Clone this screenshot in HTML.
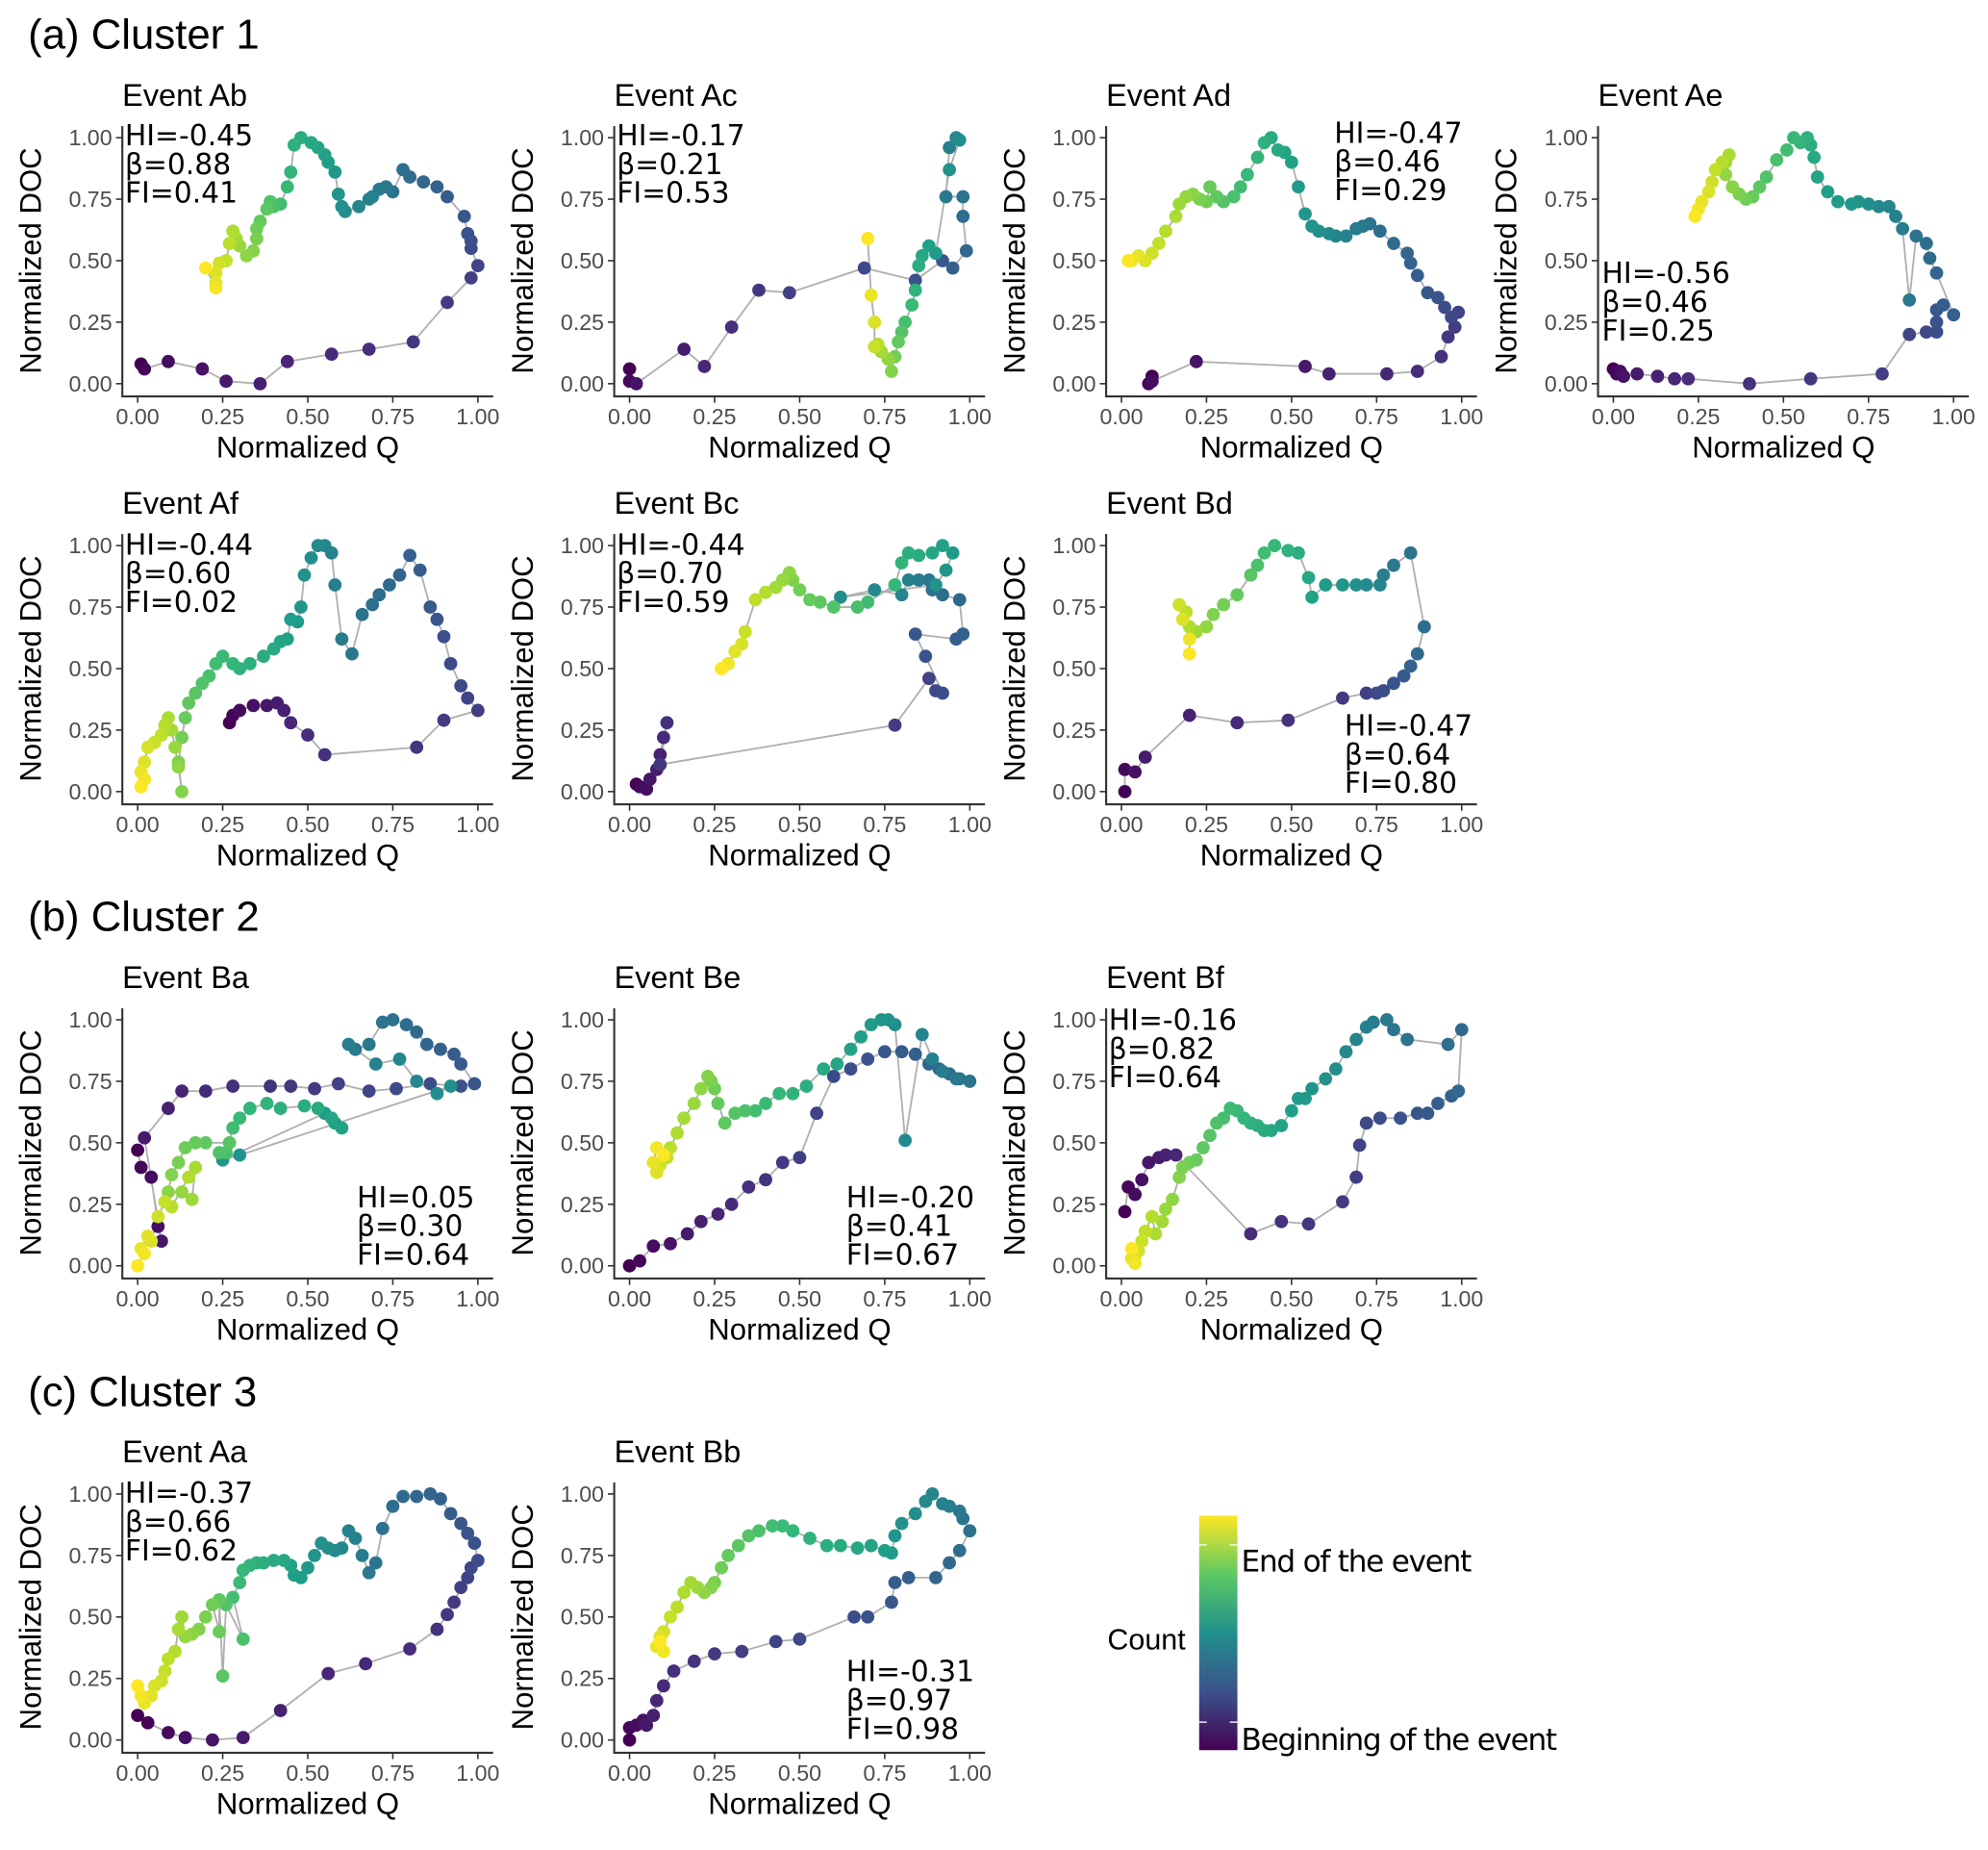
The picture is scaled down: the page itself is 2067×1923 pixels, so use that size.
<!DOCTYPE html>
<html><head><meta charset="utf-8"><style>
html,body{margin:0;padding:0;background:#fff;}
svg{display:block;font-family:"Liberation Sans",sans-serif;}
</style></head><body>
<svg id="fig" width="2067" height="1923" viewBox="0 0 1560 1451.3" preserveAspectRatio="none" xmlns="http://www.w3.org/2000/svg">
<defs><linearGradient id="vgrad" x1="0" y1="1" x2="0" y2="0">
<stop offset="0" stop-color="#440154"/><stop offset="0.25" stop-color="#3b528b"/><stop offset="0.5" stop-color="#21908c"/><stop offset="0.75" stop-color="#5dc963"/><stop offset="1" stop-color="#fde725"/></linearGradient></defs>
<text x="22" y="38" font-size="33">(a) Cluster 1</text>
<text x="22" y="730" font-size="33">(b) Cluster 2</text>
<text x="22" y="1103" font-size="33">(c) Cluster 3</text>
<g>
<rect x="941" y="1189" width="30" height="184" fill="url(#vgrad)"/>
<line x1="941" y1="1212" x2="947" y2="1212" stroke="#fff" stroke-width="1"/><line x1="965" y1="1212" x2="971" y2="1212" stroke="#fff" stroke-width="1"/>
<line x1="941" y1="1351" x2="947" y2="1351" stroke="#fff" stroke-width="1"/><line x1="965" y1="1351" x2="971" y2="1351" stroke="#fff" stroke-width="1"/>
<text x="869" y="1294" font-size="23">Count</text>
<text x="974" y="1233" font-size="23.5" font-family="'DejaVu Sans',sans-serif" textLength="181">End of the event</text>
<text x="974" y="1373" font-size="23.5" font-family="'DejaVu Sans',sans-serif" textLength="248">Beginning of the event</text>
</g>
<g id="panels"></g>
</svg>
<script>
const eventAb=[[0.01,0.08],[0.02,0.06],[0.09,0.09],[0.19,0.06],[0.26,0.01],[0.36,0.0],[0.44,0.09],[0.57,0.12],[0.68,0.14],[0.81,0.17],[0.91,0.33],[0.98,0.43],[1.0,0.48],[0.98,0.55],[0.98,0.58],[0.97,0.61],[0.96,0.68],[0.91,0.76],[0.88,0.80],[0.84,0.82],[0.80,0.84],[0.78,0.87],[0.75,0.78],[0.73,0.80],[0.71,0.79],[0.69,0.76],[0.68,0.75],[0.65,0.72],[0.61,0.70],[0.60,0.72],[0.59,0.77],[0.58,0.86],[0.56,0.90],[0.55,0.93],[0.53,0.96],[0.51,0.98],[0.48,1.0],[0.46,0.97],[0.45,0.86],[0.44,0.80],[0.42,0.73],[0.40,0.72],[0.39,0.74],[0.38,0.71],[0.36,0.66],[0.35,0.63],[0.35,0.59],[0.34,0.54],[0.32,0.52],[0.30,0.56],[0.29,0.59],[0.28,0.62],[0.27,0.57],[0.26,0.50],[0.24,0.49],[0.23,0.45],[0.23,0.41],[0.23,0.39],[0.20,0.47]];
const eventAc=[[0.0,0.06],[0.0,0.01],[0.02,0.0],[0.16,0.14],[0.22,0.07],[0.30,0.23],[0.38,0.38],[0.47,0.37],[0.69,0.47],[0.84,0.42],[0.92,0.50],[0.95,0.47],[0.99,0.54],[0.98,0.68],[0.98,0.76],[0.93,0.76],[0.94,0.96],[0.96,1.0],[0.97,0.99],[0.94,0.87],[0.90,0.53],[0.88,0.56],[0.86,0.52],[0.85,0.48],[0.84,0.38],[0.83,0.32],[0.81,0.25],[0.80,0.21],[0.79,0.17],[0.78,0.11],[0.77,0.05],[0.76,0.10],[0.74,0.13],[0.73,0.16],[0.72,0.15],[0.72,0.25],[0.71,0.36],[0.70,0.59]];
const eventAd=[[0.09,0.03],[0.08,0.0],[0.09,0.01],[0.22,0.09],[0.54,0.07],[0.61,0.04],[0.78,0.04],[0.87,0.05],[0.94,0.11],[0.96,0.19],[0.98,0.23],[0.99,0.29],[0.97,0.27],[0.95,0.31],[0.93,0.35],[0.90,0.37],[0.87,0.44],[0.85,0.49],[0.84,0.53],[0.80,0.57],[0.76,0.62],[0.73,0.65],[0.71,0.64],[0.69,0.63],[0.66,0.60],[0.63,0.60],[0.61,0.61],[0.58,0.62],[0.56,0.64],[0.54,0.69],[0.52,0.80],[0.50,0.90],[0.48,0.94],[0.46,0.95],[0.44,1.0],[0.42,0.98],[0.40,0.92],[0.37,0.85],[0.35,0.80],[0.33,0.76],[0.30,0.74],[0.28,0.76],[0.26,0.80],[0.25,0.74],[0.23,0.75],[0.21,0.77],[0.19,0.76],[0.17,0.73],[0.16,0.68],[0.13,0.62],[0.11,0.57],[0.09,0.53],[0.07,0.50],[0.05,0.52],[0.03,0.50],[0.02,0.50]];
const eventAe=[[0.0,0.06],[0.01,0.04],[0.02,0.05],[0.03,0.03],[0.07,0.04],[0.13,0.03],[0.18,0.02],[0.22,0.02],[0.40,0.0],[0.58,0.02],[0.79,0.04],[0.87,0.20],[0.92,0.21],[0.95,0.21],[0.95,0.25],[0.95,0.30],[0.97,0.32],[1.0,0.28],[0.95,0.45],[0.93,0.51],[0.92,0.57],[0.89,0.60],[0.87,0.34],[0.85,0.63],[0.83,0.68],[0.81,0.72],[0.78,0.72],[0.75,0.73],[0.72,0.74],[0.70,0.73],[0.66,0.74],[0.63,0.78],[0.60,0.84],[0.59,0.92],[0.58,0.97],[0.57,1.0],[0.55,0.98],[0.53,1.0],[0.51,0.95],[0.48,0.91],[0.45,0.84],[0.43,0.80],[0.41,0.76],[0.39,0.75],[0.37,0.77],[0.35,0.80],[0.33,0.85],[0.33,0.90],[0.34,0.93],[0.32,0.90],[0.30,0.87],[0.29,0.82],[0.28,0.78],[0.26,0.74],[0.25,0.71],[0.24,0.68]];
const eventAf=[[0.27,0.28],[0.28,0.31],[0.30,0.33],[0.34,0.35],[0.38,0.35],[0.41,0.36],[0.43,0.33],[0.45,0.28],[0.50,0.23],[0.55,0.15],[0.82,0.18],[0.90,0.29],[1.0,0.33],[0.97,0.38],[0.95,0.43],[0.92,0.52],[0.90,0.63],[0.88,0.70],[0.86,0.75],[0.83,0.90],[0.80,0.96],[0.77,0.88],[0.74,0.84],[0.71,0.80],[0.69,0.76],[0.66,0.72],[0.63,0.56],[0.60,0.62],[0.58,0.84],[0.57,0.97],[0.55,1.0],[0.53,1.0],[0.51,0.95],[0.49,0.88],[0.48,0.75],[0.47,0.69],[0.45,0.70],[0.44,0.62],[0.42,0.61],[0.40,0.58],[0.37,0.55],[0.33,0.52],[0.30,0.50],[0.28,0.52],[0.25,0.55],[0.23,0.52],[0.21,0.47],[0.19,0.44],[0.17,0.40],[0.15,0.36],[0.14,0.30],[0.13,0.22],[0.12,0.12],[0.13,0.0],[0.12,0.10],[0.11,0.18],[0.10,0.25],[0.09,0.30],[0.08,0.27],[0.07,0.23],[0.05,0.20],[0.03,0.18],[0.02,0.12],[0.01,0.08],[0.02,0.05],[0.01,0.02]];
const eventBc=[[0.02,0.03],[0.03,0.02],[0.05,0.01],[0.06,0.05],[0.08,0.09],[0.09,0.15],[0.10,0.22],[0.11,0.28],[0.09,0.11],[0.78,0.27],[0.88,0.46],[0.90,0.41],[0.92,0.40],[0.87,0.55],[0.84,0.64],[0.96,0.62],[0.98,0.64],[0.97,0.78],[0.92,0.80],[0.89,0.82],[0.88,0.86],[0.85,0.86],[0.82,0.86],[0.80,0.80],[0.72,0.82],[0.62,0.79],[0.90,0.84],[0.93,0.90],[0.95,0.97],[0.92,1.0],[0.89,0.97],[0.85,0.96],[0.82,0.97],[0.80,0.93],[0.78,0.84],[0.70,0.77],[0.67,0.75],[0.60,0.75],[0.56,0.77],[0.53,0.78],[0.50,0.82],[0.48,0.86],[0.47,0.89],[0.45,0.86],[0.43,0.83],[0.40,0.81],[0.37,0.78],[0.34,0.65],[0.33,0.60],[0.31,0.57],[0.29,0.52],[0.27,0.50]];
const eventBd=[[0.01,0.0],[0.01,0.09],[0.04,0.08],[0.07,0.14],[0.20,0.31],[0.34,0.28],[0.49,0.29],[0.65,0.38],[0.72,0.40],[0.75,0.40],[0.77,0.41],[0.80,0.44],[0.83,0.47],[0.85,0.51],[0.87,0.56],[0.89,0.67],[0.85,0.97],[0.80,0.92],[0.77,0.88],[0.76,0.84],[0.72,0.84],[0.69,0.84],[0.65,0.84],[0.60,0.84],[0.56,0.79],[0.55,0.87],[0.52,0.97],[0.49,0.98],[0.45,1.0],[0.42,0.97],[0.40,0.92],[0.38,0.88],[0.34,0.80],[0.30,0.76],[0.27,0.72],[0.25,0.67],[0.22,0.65],[0.20,0.67],[0.19,0.73],[0.17,0.76],[0.18,0.70],[0.20,0.62],[0.20,0.56]];
const eventBa=[[0.00,0.47],[0.01,0.40],[0.04,0.36],[0.06,0.16],[0.07,0.10],[0.02,0.52],[0.09,0.64],[0.13,0.71],[0.20,0.71],[0.28,0.73],[0.39,0.73],[0.45,0.73],[0.52,0.72],[0.59,0.74],[0.68,0.71],[0.76,0.72],[0.86,0.74],[0.95,0.73],[0.99,0.74],[0.95,0.82],[0.93,0.86],[0.89,0.88],[0.85,0.90],[0.82,0.95],[0.79,0.98],[0.75,1.0],[0.72,0.99],[0.68,0.90],[0.64,0.88],[0.62,0.90],[0.70,0.82],[0.77,0.84],[0.82,0.75],[0.88,0.70],[0.92,0.73],[0.30,0.45],[0.25,0.43],[0.55,0.62],[0.58,0.58],[0.60,0.56],[0.57,0.60],[0.53,0.64],[0.49,0.65],[0.42,0.64],[0.38,0.66],[0.33,0.64],[0.30,0.60],[0.28,0.56],[0.26,0.46],[0.24,0.46],[0.27,0.50],[0.20,0.50],[0.17,0.50],[0.14,0.48],[0.12,0.42],[0.10,0.37],[0.09,0.30],[0.13,0.30],[0.16,0.27],[0.17,0.40],[0.15,0.36],[0.10,0.24],[0.08,0.26],[0.06,0.20],[0.04,0.10],[0.03,0.12],[0.01,0.07],[0.02,0.05],[0.0,0.0]];
const eventBe=[[0.0,0.0],[0.03,0.02],[0.07,0.08],[0.12,0.09],[0.17,0.13],[0.21,0.18],[0.26,0.21],[0.30,0.25],[0.35,0.32],[0.40,0.35],[0.45,0.42],[0.50,0.44],[0.55,0.62],[0.60,0.77],[0.65,0.80],[0.70,0.84],[0.75,0.87],[0.80,0.87],[0.84,0.86],[0.88,0.82],[0.91,0.80],[0.94,0.78],[0.97,0.76],[1.0,0.75],[0.96,0.76],[0.92,0.79],[0.89,0.84],[0.86,0.94],[0.81,0.51],[0.78,0.98],[0.76,1.0],[0.74,1.0],[0.71,0.98],[0.68,0.93],[0.65,0.88],[0.61,0.82],[0.57,0.80],[0.52,0.73],[0.48,0.70],[0.44,0.70],[0.40,0.66],[0.37,0.63],[0.34,0.63],[0.31,0.62],[0.28,0.58],[0.26,0.66],[0.25,0.72],[0.24,0.75],[0.23,0.77],[0.21,0.72],[0.19,0.66],[0.16,0.60],[0.14,0.54],[0.12,0.48],[0.11,0.44],[0.09,0.41],[0.08,0.38],[0.07,0.42],[0.08,0.48],[0.10,0.45]];
const eventBf=[[0.01,0.22],[0.02,0.32],[0.04,0.29],[0.06,0.35],[0.08,0.42],[0.11,0.44],[0.13,0.45],[0.16,0.45],[0.38,0.13],[0.47,0.18],[0.55,0.17],[0.65,0.26],[0.69,0.36],[0.70,0.49],[0.72,0.58],[0.76,0.60],[0.82,0.60],[0.87,0.62],[0.90,0.62],[0.93,0.66],[0.97,0.69],[0.99,0.71],[1.0,0.96],[0.96,0.90],[0.84,0.92],[0.80,0.96],[0.78,1.0],[0.74,0.99],[0.72,0.97],[0.69,0.92],[0.66,0.87],[0.63,0.80],[0.60,0.76],[0.56,0.72],[0.54,0.68],[0.52,0.68],[0.50,0.63],[0.47,0.57],[0.44,0.55],[0.42,0.55],[0.40,0.57],[0.38,0.58],[0.36,0.60],[0.34,0.63],[0.32,0.64],[0.30,0.60],[0.28,0.58],[0.26,0.53],[0.24,0.48],[0.22,0.43],[0.20,0.42],[0.18,0.40],[0.17,0.36],[0.15,0.27],[0.13,0.23],[0.12,0.18],[0.10,0.13],[0.09,0.20],[0.07,0.14],[0.06,0.10],[0.05,0.06],[0.04,0.04],[0.03,0.03],[0.04,0.01],[0.03,0.07]];
const eventAa=[[0.0,0.10],[0.03,0.07],[0.09,0.03],[0.14,0.01],[0.22,0.0],[0.31,0.01],[0.42,0.12],[0.56,0.27],[0.67,0.31],[0.80,0.37],[0.88,0.45],[0.91,0.51],[0.93,0.56],[0.95,0.62],[0.97,0.66],[0.98,0.70],[1.0,0.73],[0.99,0.80],[0.97,0.84],[0.95,0.88],[0.92,0.92],[0.89,0.98],[0.86,1.0],[0.82,0.99],[0.78,0.99],[0.75,0.95],[0.72,0.86],[0.70,0.72],[0.68,0.68],[0.66,0.75],[0.64,0.82],[0.62,0.85],[0.60,0.78],[0.58,0.77],[0.56,0.78],[0.54,0.80],[0.52,0.75],[0.50,0.70],[0.48,0.66],[0.46,0.67],[0.45,0.71],[0.43,0.73],[0.40,0.73],[0.37,0.72],[0.35,0.72],[0.33,0.71],[0.31,0.69],[0.30,0.64],[0.28,0.58],[0.31,0.41],[0.26,0.55],[0.25,0.26],[0.24,0.57],[0.24,0.44],[0.22,0.55],[0.20,0.50],[0.18,0.45],[0.16,0.43],[0.14,0.42],[0.13,0.50],[0.12,0.45],[0.11,0.36],[0.09,0.33],[0.08,0.28],[0.07,0.24],[0.05,0.22],[0.04,0.18],[0.02,0.15],[0.01,0.18],[0.0,0.22]];
const eventBb=[[0.0,0.0],[0.0,0.05],[0.02,0.06],[0.04,0.08],[0.05,0.06],[0.07,0.10],[0.08,0.16],[0.10,0.22],[0.13,0.28],[0.19,0.32],[0.25,0.35],[0.33,0.36],[0.43,0.40],[0.50,0.41],[0.66,0.50],[0.70,0.50],[0.77,0.56],[0.78,0.64],[0.82,0.66],[0.90,0.66],[0.94,0.72],[0.97,0.77],[1.0,0.85],[0.98,0.90],[0.97,0.93],[0.94,0.95],[0.92,0.96],[0.89,1.0],[0.87,0.97],[0.84,0.92],[0.80,0.88],[0.78,0.83],[0.77,0.76],[0.75,0.77],[0.71,0.79],[0.67,0.78],[0.62,0.79],[0.58,0.79],[0.53,0.82],[0.48,0.85],[0.45,0.87],[0.42,0.87],[0.38,0.85],[0.35,0.83],[0.32,0.79],[0.29,0.75],[0.27,0.70],[0.25,0.64],[0.24,0.62],[0.22,0.60],[0.20,0.62],[0.18,0.64],[0.16,0.60],[0.14,0.54],[0.12,0.50],[0.10,0.44],[0.09,0.42],[0.08,0.38],[0.10,0.36],[0.09,0.40]];
const tickValues=[0,0.25,0.5,0.75,1];
const tickLabels=["0.00","0.25","0.50","0.75","1.00"];
const panelNames=["Ab","Ac","Ad","Ae","Af","Bc","Bd","Ba","Be","Bf","Aa","Bb"];
const panelStats=[["-0.45","0.88","0.41"],["-0.17","0.21","0.53"],["-0.47","0.46","0.29"],["-0.56","0.46","0.25"],["-0.44","0.60","0.02"],["-0.44","0.70","0.59"],["-0.47","0.64","0.80"],["0.05","0.30","0.64"],["-0.20","0.41","0.67"],["-0.16","0.82","0.64"],["-0.37","0.66","0.62"],["-0.31","0.97","0.98"]];
const panelData=[eventAb,eventAc,eventAd,eventAe,eventAf,eventBc,eventBd,eventBa,eventBe,eventBf,eventAa,eventBb];
// layout
const cells=[[0,0],[1,0],[2,0],[3,0],[0,1],[1,1],[2,1],[0,2],[1,2],[2,2],[0,3],[1,3]];
const rowBase=[301,621,993,1365];
const statPos=[[98,107],[484,107],[1047,105],[1257,215],[98,428],[484,428],[1055,570],[280,944],[664,944],[870,805],[98,1177],[664,1317]];
const VIR=[[68,1,84],[72,40,120],[62,74,137],[49,104,142],[38,130,142],[31,158,137],[53,183,121],[109,205,89],[180,222,44],[253,231,37]];
function viridis(t){const s=t*(VIR.length-1);const i=Math.min(Math.floor(s),VIR.length-2);const f=s-i;const c=VIR[i].map((v,k)=>Math.round(v+(VIR[i+1][k]-v)*f));return `rgb(${c[0]},${c[1]},${c[2]})`;}
const NS="http://www.w3.org/2000/svg";
function mk(tag,attrs,parent,txt){const e=document.createElementNS(NS,tag);for(const k in attrs)e.setAttribute(k,attrs[k]);if(txt!==undefined)e.textContent=txt;parent.appendChild(e);return e;}
const root=document.getElementById('panels');
const rowShift=[0,0,-4,-5];
panelData.forEach((data,p)=>{
  const [c,r]=cells[p];
  const x0=108+386*c, W=267, y0=rowBase[r], H=193;
  const sx=v=>x0+v*W, sy=v=>y0-v*H;
  const g=mk('g',{},root);
  
  
  const title=mk('text',{x:x0-12,y:y0-H-25,'font-size':24.5},g,'Event '+panelNames[p]);
  
  
  const ax=mk('path',{d:`M${x0-12},${y0-H-9} V${y0+10} H${x0+W+12}`,fill:'none',stroke:'#333',"stroke-width":1.6},g);
  
  
  tickValues.forEach((v,i)=>{
    mk('line',{x1:x0-17,x2:x0-12,y1:sy(v),y2:sy(v),stroke:'#333','stroke-width':1.2},g);
    const yt=mk('text',{x:x0-20,y:sy(v)+6,'font-size':17.5,fill:'#4d4d4d','text-anchor':'end'},g,tickLabels[i]);
    
    
    mk('line',{x1:sx(v),x2:sx(v),y1:y0+10,y2:y0+15,stroke:'#333','stroke-width':1.2},g);
    const xt=mk('text',{x:sx(v),y:y0+32,'font-size':17.5,fill:'#4d4d4d','text-anchor':'middle'},g,tickLabels[i]);
    
    
  });
  const xl=mk('text',{x:x0+W/2,y:y0+58,'font-size':23.5,'text-anchor':'middle'},g,'Normalized Q');
  
  
  const ycx=x0-76, ycy=y0-H/2;
  const yl=mk('text',{x:ycx,y:ycy,'font-size':23.5,'text-anchor':'middle',transform:`rotate(-90 ${ycx} ${ycy})`},g,'Normalized DOC');
  
  
  const line=mk('polyline',{points:data.map(d=>sx(d[0])+','+sy(d[1])).join(' '),fill:'none',stroke:'#b0b0b0','stroke-width':1.4},g);
  
  
  const n=data.length;
  data.forEach((d,i)=>{
    const pt=mk('circle',{cx:sx(d[0]),cy:sy(d[1]),r:5.2,fill:viridis(n>1?i/(n-1):0)},g);
    
    
  });
  const [tx,ty]=statPos[p];
  const st=panelStats[p];
  ['HI='+st[0],'β='+st[1],'FI='+st[2]].forEach((s,i)=>{
    const t=mk('text',{x:tx,y:ty+rowShift[r]+7+i*22.5,'font-size':22.5,'font-family':'"DejaVu Sans",sans-serif'},g,s);
    
    
  });
});
</script>
</body></html>
